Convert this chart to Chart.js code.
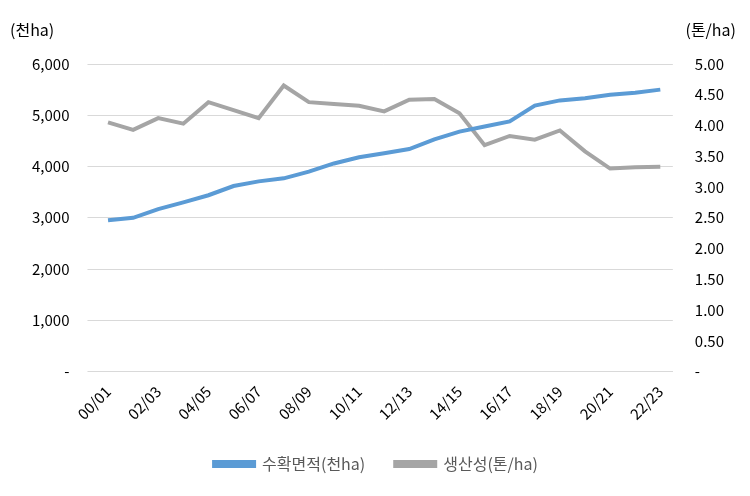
<!DOCTYPE html>
<html>
<head>
<meta charset="utf-8">
<script src="https://cdn.jsdelivr.net/npm/chart.js@4"></script>
<style>
  body { margin: 0; background: #fff; }
  #wrap { width: 750px; height: 496px; }
</style>
</head>
<body>
<div id="wrap"><canvas id="chart"></canvas></div>
<script>
// Seasons 00/01 .. 22/23
const seasons = ['00/01','01/02','02/03','03/04','04/05','05/06','06/07','07/08','08/09','09/10','10/11',
  '11/12','12/13','13/14','14/15','15/16','16/17','17/18','18/19','19/20','20/21','21/22','22/23'];
// harvested area, thousand ha
const area = [2950,3000,3170,3300,3440,3620,3710,3770,3900,4060,4180,4260,4340,4530,4680,4780,4880,5190,5290,5330,5400,5440,5500];
// productivity, ton/ha
const yieldPerHa = [4.05,3.93,4.12,4.03,4.38,4.25,4.12,4.65,4.38,4.35,4.32,4.23,4.42,4.43,4.20,3.68,3.83,3.77,3.92,3.58,3.30,3.32,3.33];

const font = "'Noto Sans CJK KR', 'Noto Sans', sans-serif";
Chart.defaults.font.family = font;
Chart.defaults.color = '#000';

// unit labels above the two axes
const unitLabels = {
  id: 'unitLabels',
  afterDraw(chart) {
    const ctx = chart.ctx;
    ctx.save();
    ctx.font = '16px ' + font;
    ctx.fillStyle = '#000';
    ctx.textBaseline = 'middle';
    ctx.textAlign = 'left';
    ctx.fillText('(천ha)', 10, 30);
    ctx.textAlign = 'right';
    ctx.fillText('(톤/ha)', 736, 30);
    ctx.restore();
  }
};

new Chart(document.getElementById('chart'), {
  type: 'line',
  data: {
    labels: seasons,
    datasets: [
      { label: '수확면적(천ha)', data: area, yAxisID: 'y', borderColor: '#5B9BD5', backgroundColor: '#5B9BD5',
        borderWidth: 4, pointRadius: 0, tension: 0 },
      { label: '생산성(톤/ha)', data: yieldPerHa, yAxisID: 'y1', borderColor: '#A5A5A5', backgroundColor: '#A5A5A5',
        borderWidth: 4, pointRadius: 0, tension: 0 }
    ]
  },
  options: {
    responsive: true,
    maintainAspectRatio: false,
    animation: false,
    layout: { padding: { top: 64, left: 14, right: 12, bottom: 14 } },
    plugins: {
      legend: {
        position: 'bottom',
        labels: {
          font: { size: 16 }, color: '#595959',
          boxWidth: 40, boxHeight: 4, padding: 30
        }
      },
      tooltip: { enabled: false }
    },
    scales: {
      x: {
        offset: true,
        grid: { display: false },
        border: { color: '#d9d9d9' },
        ticks: {
          font: { size: 15 }, maxRotation: 45, minRotation: 45,
          autoSkip: false,
          callback: (v, i) => (i % 2 === 0 ? seasons[i] : '')
        }
      },
      y: {
        position: 'left', min: 0, max: 6000,
        grid: { color: '#d9d9d9' },
        border: { display: false },
        ticks: { stepSize: 1000, font: { size: 15 }, padding: 18,
          callback: v => (v === 0 ? '-' : v.toLocaleString('en-US')) }
      },
      y1: {
        position: 'right', min: 0, max: 5,
        grid: { display: false },
        border: { display: false },
        ticks: { stepSize: 0.5, font: { size: 15 }, padding: 14,
          callback: v => (v === 0 ? '-' : v.toFixed(2)) }
      }
    }
  },
  plugins: [unitLabels]
});
</script>
</body>
</html>
